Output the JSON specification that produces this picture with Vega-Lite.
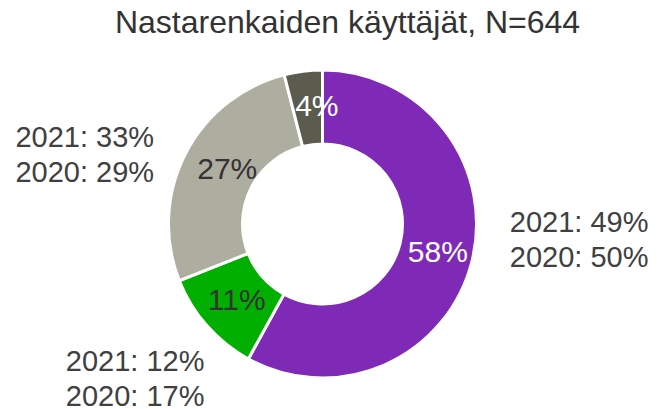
{
  "$schema": "https://vega.github.io/schema/vega-lite/v6.json",
  "width": 645,
  "height": 370,
  "autosize": {"type": "none"},
  "padding": {"left": 0, "top": 39, "right": 12, "bottom": 0},
  "background": "white",
  "config": {"view": {"stroke": null}, "font": "Liberation Sans"},
  "title": {
    "text": "Nastarenkaiden käyttäjät, N=644",
    "fontSize": 32,
    "fontWeight": "normal",
    "font": "Liberation Sans",
    "color": "#333333",
    "anchor": "middle",
    "frame": "group",
    "baseline": "alphabetic",
    "offset": 4,
    "dx": 25,
    "dy": 30
  },
  "data": {
    "values": [
      {"cat": "Nastarenkaat", "ord": 1, "value": 58, "inner": "58%", "prev": "2021: 49%\n2020: 50%"},
      {"cat": "Kitkarenkaat", "ord": 2, "value": 11, "inner": "11%", "prev": "2021: 12%\n2020: 17%"},
      {"cat": "Molemmat", "ord": 3, "value": 27, "inner": "27%", "prev": "2021: 33%\n2020: 29%"},
      {"cat": "Ei osaa sanoa", "ord": 4, "value": 4, "inner": "4%", "prev": ""}
    ]
  },
  "transform": [
    {"stack": "value", "groupby": [], "sort": [{"field": "ord", "order": "ascending"}], "as": ["s0", "s1"]},
    {"calculate": "(datum.s0 + datum.s1) / 2", "as": "mid"}
  ],
  "layer": [
    {
      "mark": {"type": "arc", "innerRadius": 80, "outerRadius": 154, "stroke": "white", "strokeWidth": 3},
      "encoding": {
        "theta": {"field": "s0", "type": "quantitative", "scale": {"domain": [0, 100]}},
        "theta2": {"field": "s1"},
        "color": {
          "field": "cat",
          "type": "nominal",
          "scale": {
            "domain": ["Nastarenkaat", "Kitkarenkaat", "Molemmat", "Ei osaa sanoa"],
            "range": ["#7F2AB6", "#00AF00", "#ADAEA0", "#5B5B4E"]
          },
          "legend": null
        }
      }
    },
    {
      "transform": [{"filter": "datum.ord <= 2"}],
      "mark": {"type": "text", "radius": 117, "fontSize": 30, "align": "center", "baseline": "middle", "dx": 2},
      "encoding": {
        "theta": {"field": "mid", "type": "quantitative", "scale": {"domain": [0, 100]}},
        "text": {"field": "inner"},
        "color": {
          "condition": {"test": "datum.ord === 1 || datum.ord === 4", "value": "white"},
          "value": "#333333"
        }
      }
    },
    {
      "transform": [{"filter": "datum.ord >= 3"}],
      "mark": {"type": "text", "radius": 117, "fontSize": 30, "align": "center", "baseline": "middle", "dx": 9, "dy": -1},
      "encoding": {
        "theta": {"field": "mid", "type": "quantitative", "scale": {"domain": [0, 100]}},
        "text": {"field": "inner"},
        "color": {
          "condition": {"test": "datum.ord === 1 || datum.ord === 4", "value": "white"},
          "value": "#333333"
        }
      }
    },
    {
      "transform": [{"filter": "datum.ord === 1"}],
      "mark": {"type": "text", "radius": 180, "fontSize": 29, "align": "left", "baseline": "middle", "lineBreak": "\n", "lineHeight": 35, "dx": 13, "dy": -46, "color": "#404040"},
      "encoding": {
        "theta": {"field": "mid", "type": "quantitative", "scale": {"domain": [0, 100]}},
        "text": {"field": "prev"}
      }
    },
    {
      "transform": [{"filter": "datum.ord === 2"}],
      "mark": {"type": "text", "radius": 180, "fontSize": 29, "align": "right", "baseline": "middle", "lineBreak": "\n", "lineHeight": 35, "dx": 17, "dy": 19, "color": "#404040"},
      "encoding": {
        "theta": {"field": "mid", "type": "quantitative", "scale": {"domain": [0, 100]}},
        "text": {"field": "prev"}
      }
    },
    {
      "transform": [{"filter": "datum.ord === 3"}],
      "mark": {"type": "text", "radius": 180, "fontSize": 29, "align": "right", "baseline": "middle", "lineBreak": "\n", "lineHeight": 35, "dx": -8, "dy": -4, "color": "#404040"},
      "encoding": {
        "theta": {"field": "mid", "type": "quantitative", "scale": {"domain": [0, 100]}},
        "text": {"field": "prev"}
      }
    }
  ]
}
